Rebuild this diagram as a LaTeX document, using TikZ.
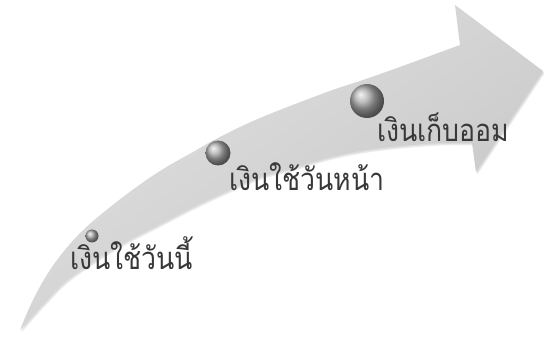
\documentclass[tikz,border=0pt]{standalone}
\usepackage{fontspec}
\newfontfamily\thaifont[Script=Thai,FakeStretch=0.86]{Loma}
\begin{document}
\begin{tikzpicture}[x=1pt,y=-1pt,
  lbl/.style={font=\thaifont\fontsize{31}{34}\selectfont, text=black!78, inner sep=0pt, anchor=base west},
  orb/.style={circle, inner sep=0pt, ball color=gray!65, draw=none}]
\useasboundingbox[fill=white] (0,0) rectangle (547,339);
\def\arrowpath{
  plot[smooth, tension=0.6] coordinates {(20,330) (33,300) (50,270) (70,244) (92,222) (127,194) (160,171) (193,152) (218,138) (260,118) (327,92) (360,81) (397,68) (460,45)}
  -- (455,5) -- (543,71) -- (476,172) -- (472,143)
  -- plot[smooth, tension=0.6] coordinates {(472,143) (440,143) (400,146) (360,151) (327,158) (293,168) (260,177) (227,191) (193,207) (160,224) (127,241) (100,257) (67,280) (45,302) (20,330)}
  -- cycle}
% soft shadow
\begin{scope}[shift={(1.5,2.5)}]
  \fill[gray!60, opacity=0.25] \arrowpath;
\end{scope}
\begin{scope}[shift={(0.8,1.2)}]
  \fill[gray!60, opacity=0.25] \arrowpath;
\end{scope}
% arrow body
\path[top color=gray!24, bottom color=gray!44, shading angle=35] \arrowpath;
% orbs
\node[orb, minimum size=13pt] (o1) at (92,236) {};
\node[orb, minimum size=25pt] (o2) at (218,153) {};
\node[orb, minimum size=34pt] (o3) at (367,101) {};
% labels
\node[lbl] (t1) at (70,270) {เงินใช้วันนี้};
\node[lbl] (t2) at (229,191) {เงินใช้วันหน้า};
\node[lbl] (t3) at (377,142) {เงินเก็บออม};
\end{tikzpicture}
\end{document}
